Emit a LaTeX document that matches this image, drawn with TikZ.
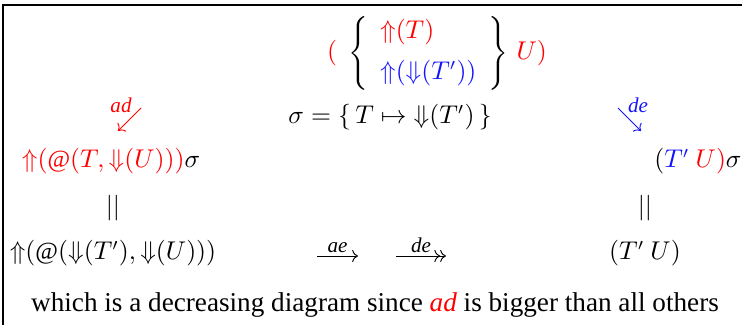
\documentclass[tikz,border=0pt]{standalone}
\usepackage{amsmath,amssymb}
\usepackage{fontspec}
\setmainfont{Liberation Serif}
\usetikzlibrary{arrows.meta,positioning}
\definecolor{RedE} {RGB}{255,  0,  0}
\definecolor{BlueE}{RGB}{ 20, 20,255}
\newcommand{\upa}{\mathord{\Uparrow}}
\newcommand{\dna}{\mathord{\Downarrow}}

\begin{document}
\begin{tikzpicture}[x=0.015cm,y=-0.015cm,
    expr/.style={inner sep=1pt,font=\fontsize{10.5}{12.6}\selectfont},
    lbl/.style={inner sep=1pt,font=\small\itshape}]
    \useasboundingbox (0,0) rectangle (742,325);
    \draw[line width=0.6pt] (3,325) -- (3,5) -- (742,5);
    % top of the peak
    \node[expr,inner sep=0pt] (peak) at (437,53)
      {$\textcolor{RedE}{(}\;\left\{\begin{array}{l}
          \textcolor{RedE}{\upa(T)}\\[5pt]
          \textcolor{BlueE}{\upa(\dna(T'))}\end{array}\right\}\,\textcolor{RedE}{U)}$};
    \node[expr] (subst) at (390,117) {$\sigma = \{\, T \mapsto \dna(T')\,\}$};
    % the two sides
    \node[expr] (lhs)  at (111,161) {$\textcolor{RedE}{\upa(@(T,\dna(U)))}\sigma$};
    \node[expr] (lbot) at (113,253) {$\upa(@(\dna(T'),\dna(U)))$};
    \node[expr] (rhs)  at (698,161) {$(\textcolor{BlueE}{T'}\ \textcolor{RedE}{U)}\sigma$};
    \node[expr] (rbot) at (645,253) {$(T'\ U)$};
    \foreach \n/\x in {leq/113,req/645}{
      \node[expr] (\n) at (\x,208) {$||$};
    }
    % the steps
    \foreach \n/\a/\b/\c in {
      ad/{141,108}/{118,131}/RedE,
      de/{618,108}/{641,131}/BlueE}{
      \coordinate (\n s) at (\a);
      \coordinate (\n e) at (\b);
      \draw[-{To},\c] (\n s) -- (\n e);
    }
    \node[lbl,RedE,anchor=south] at (121,116) {ad};
    \node[lbl,BlueE,anchor=south] at (638,116) {de};
    \coordinate (aes) at (317,256);
    \coordinate (aee) at (358,256);
    \coordinate (des) at (396,256);
    \coordinate (dee) at (446,256);
    \draw[-{To}] (aes) -- node[lbl,above] {ae} (aee);
    \draw[-{To}{To}] (des) -- node[lbl,above] {de} (dee);
    \node[font=\fontsize{11.6}{13.8}\selectfont] (note) at (375,305)
      {which is a decreasing diagram since \textcolor{RedE}{\textit{ad}} is bigger than all others};
  \end{tikzpicture}
\end{document}
